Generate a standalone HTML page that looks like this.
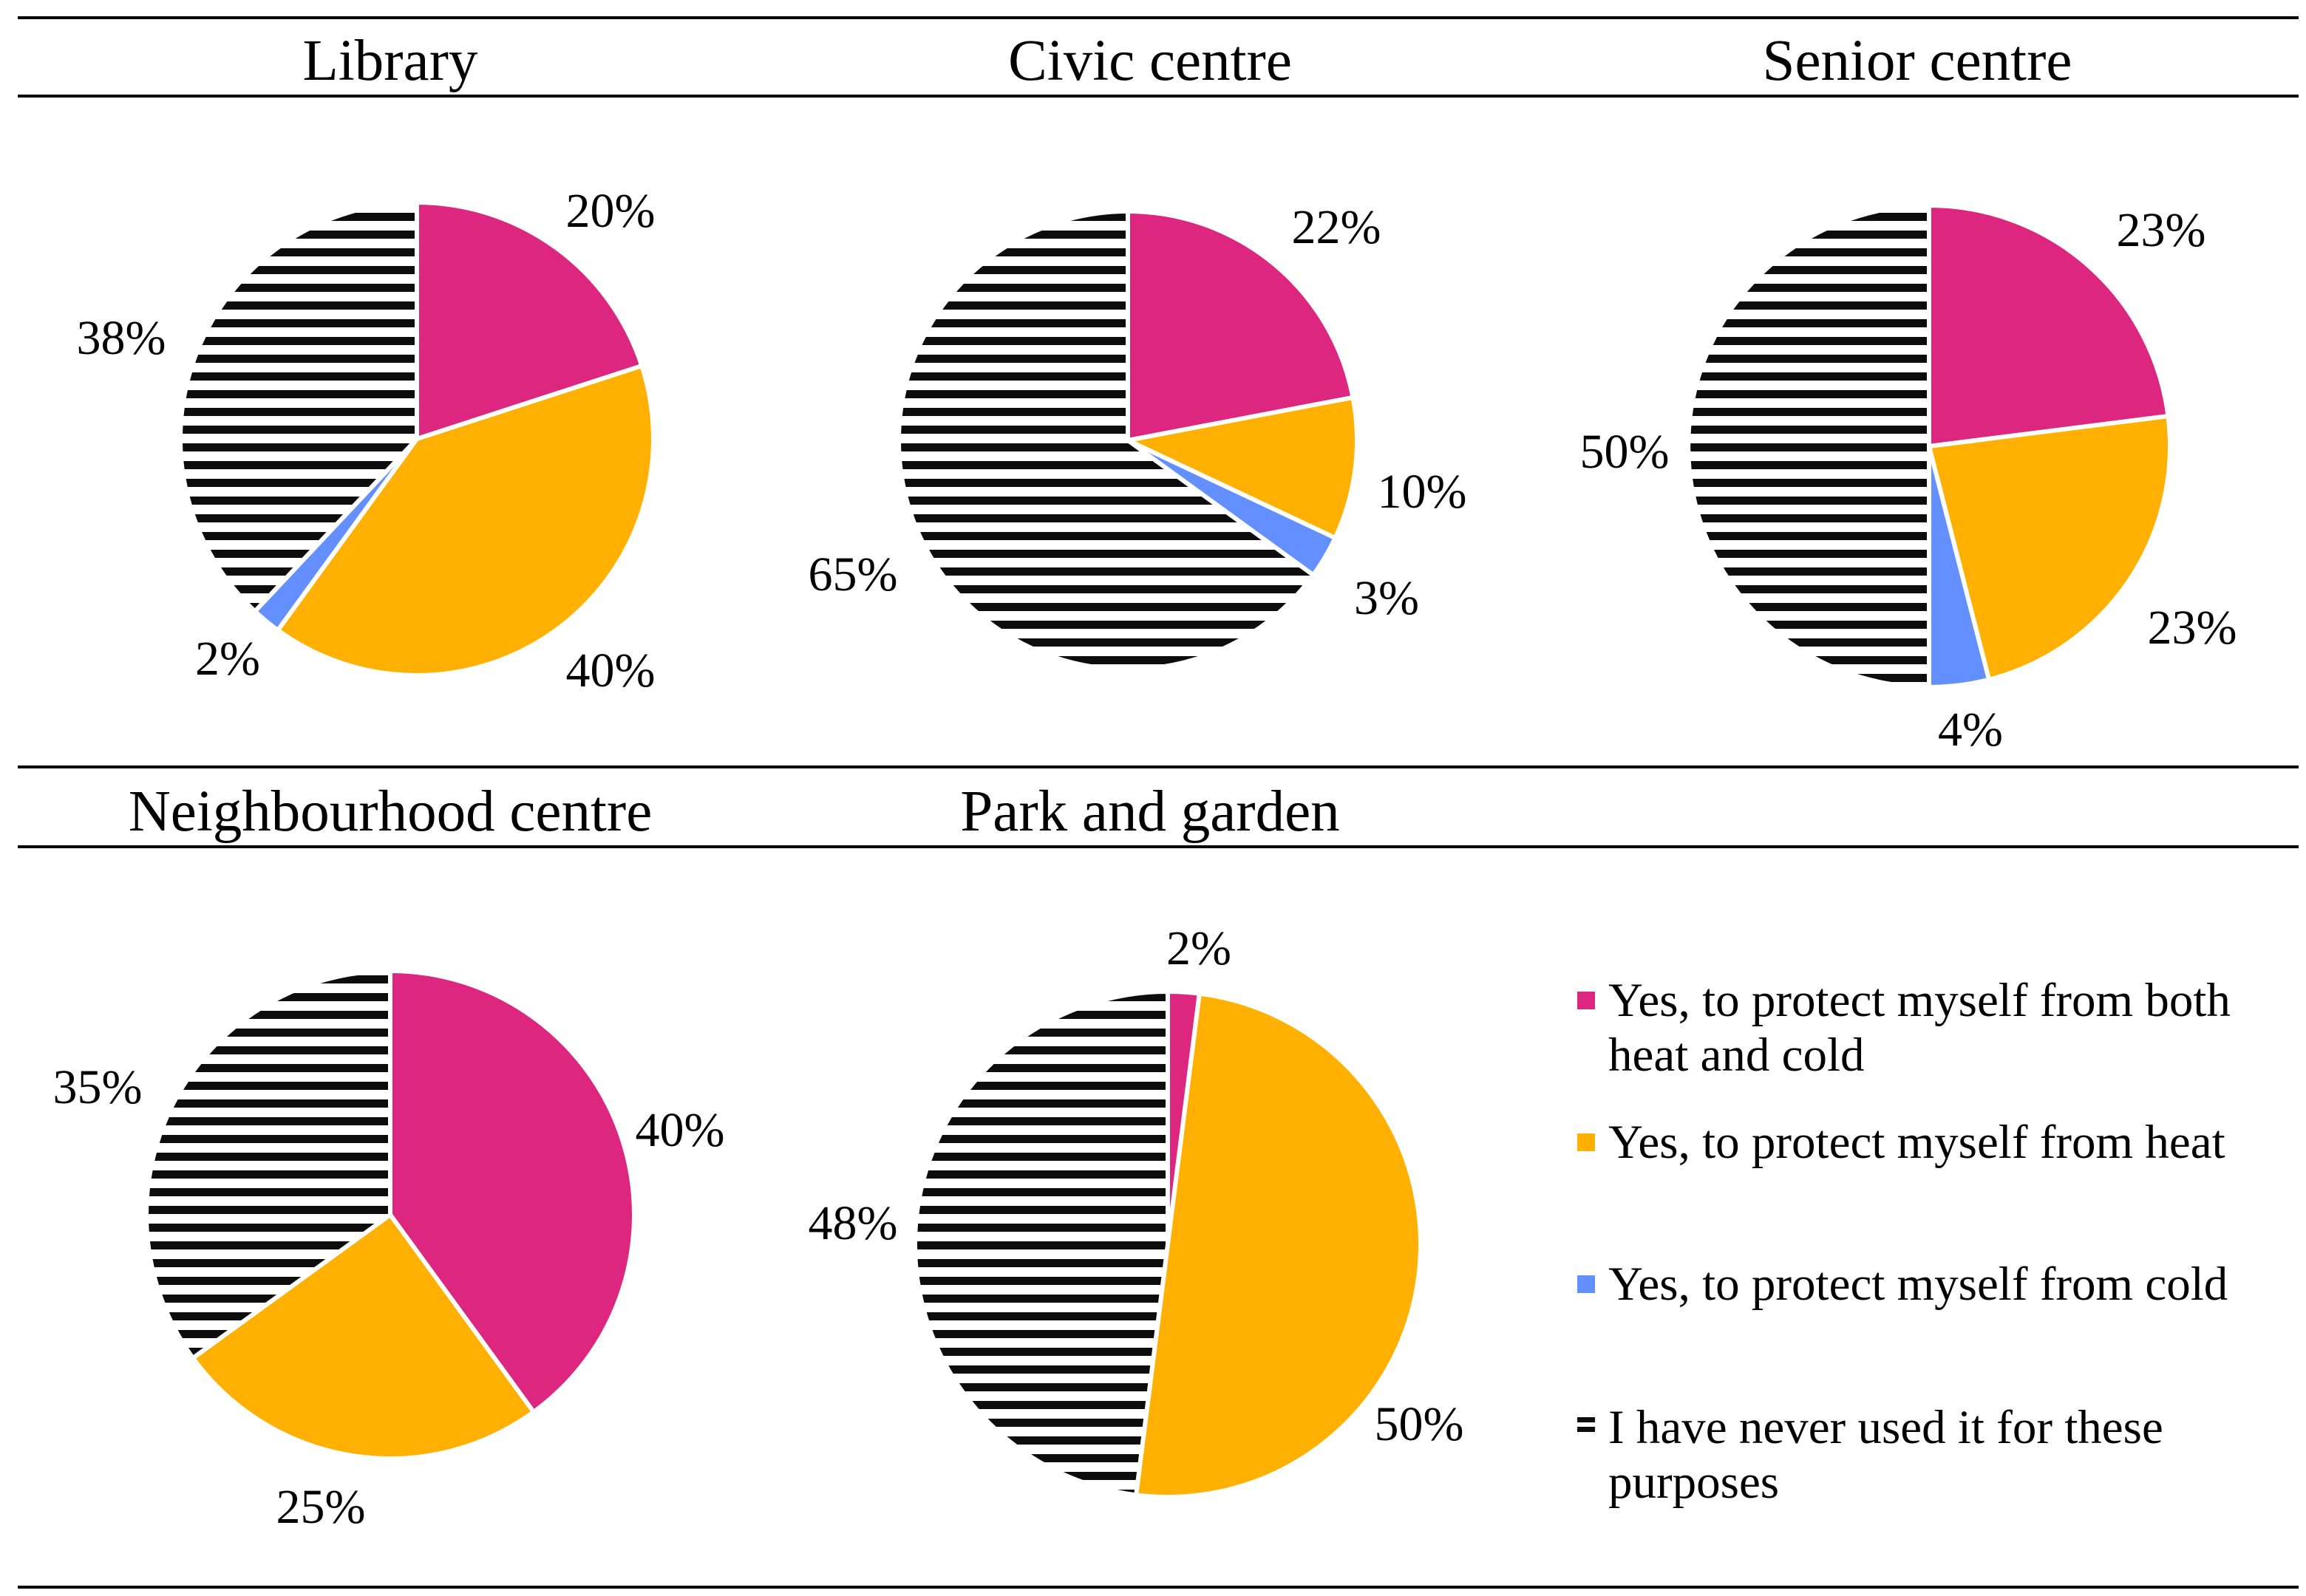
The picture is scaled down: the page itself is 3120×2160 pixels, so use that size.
<!DOCTYPE html>
<html><head><meta charset="utf-8"><style>
html,body{margin:0;padding:0;background:#fff;}
svg{display:block;}
text{font-family:"Liberation Serif",serif;fill:#000;}
</style></head><body>
<svg id="chart" width="3120" height="2160" viewBox="0 0 3120 2160" xmlns="http://www.w3.org/2000/svg">
<defs>
<pattern id="stripes" patternUnits="userSpaceOnUse" width="24" height="24">
<rect x="0" y="0" width="24" height="24" fill="#fff"/>
<rect x="0" y="0" width="24" height="11" fill="#0d0d0d"/>
</pattern>
</defs>
<g stroke="#000" stroke-width="4">
<line x1="24" y1="24" x2="3110" y2="24"/>
<line x1="24" y1="130" x2="3110" y2="130"/>
<line x1="24" y1="1038" x2="3110" y2="1038"/>
<line x1="24" y1="1146" x2="3110" y2="1146"/>
<line x1="24" y1="2148" x2="3110" y2="2148"/>
</g>
<g id="pies"></g>
<g font-size="65">
<rect x="2134" y="1342" width="24" height="24" fill="#DC267F"/>
<text x="2176" y="1375">Yes, to protect myself from both</text>
<text x="2176" y="1449">heat and cold</text>
<rect x="2134" y="1534" width="24" height="24" fill="#FFB000"/>
<text x="2176" y="1567">Yes, to protect myself from heat</text>
<rect x="2134" y="1726" width="24" height="24" fill="#648FFF"/>
<text x="2176" y="1759">Yes, to protect myself from cold</text>
<g>
<rect x="2134" y="1918" width="24" height="7" fill="#0d0d0d"/>
<rect x="2134" y="1931" width="24" height="7" fill="#0d0d0d"/>
</g>
<text x="2176" y="1953">I have never used it for these</text>
<text x="2176" y="2027">purposes</text>
</g>
</svg>
<script>
const titles = ["Library", "Civic centre", "Senior centre", "Neighbourhood centre", "Park and garden"];
const bothValues = [20, 22, 23, 40, 2];
const heatValues = [40, 10, 23, 25, 50];
const coldValues = [2, 3, 4, 0, 0];
const neverValues = [38, 65, 50, 35, 48];
const categories = ["both", "heat", "cold", "never"];
const fills = ["#DC267F", "#FFB000", "#648FFF", "url(#stripes)"];
const layout = [
  {cx: 564, cy: 594, r: 320, tx: 528, ty: 108},
  {cx: 1526, cy: 596, r: 310, tx: 1556, ty: 108},
  {cx: 2610, cy: 604, r: 326, tx: 2594, ty: 108},
  {cx: 528, cy: 1644, r: 330, tx: 528, ty: 1124},
  {cx: 1580, cy: 1684, r: 342, tx: 1556, ty: 1124}
];
/* label placement offsets (px from pie centre), per pie, per category */
const labelOffsets = [
  [[262,-310],[262,312],[-256,296],[-400,-138]],
  [[282,-290],[398,68],[350,212],[-372,180]],
  [[314,-294],[356,244],[56,382],[-412,6]],
  [[392,-116],[-94,394],[0,0],[-396,-174]],
  [[42,-402],[340,242],[0,0],[-426,-30]]
];
const NS = "http://www.w3.org/2000/svg";
const root = document.getElementById("pies");
function pt(cx, cy, r, frac) {
  const a = frac * 2 * Math.PI;
  return [cx + r * Math.sin(a), cy - r * Math.cos(a)];
}
titles.forEach((title, i) => {
  const L = layout[i];
  const g = document.createElementNS(NS, "g");
  
  
  root.appendChild(g);
  const t = document.createElementNS(NS, "text");
  
  
  t.setAttribute("x", L.tx); t.setAttribute("y", L.ty);
  t.setAttribute("text-anchor", "middle"); t.setAttribute("font-size", "79");
  t.textContent = title;
  g.appendChild(t);
  const vals = [bothValues[i], heatValues[i], coldValues[i], neverValues[i]];
  const total = vals.reduce((a, b) => a + b, 0);
  let acc = 0;
  vals.forEach((v, k) => {
    if (v <= 0) return;
    const f0 = acc / total, f1 = (acc + v) / total;
    acc += v;
    const p0 = pt(L.cx, L.cy, L.r, f0), p1 = pt(L.cx, L.cy, L.r, f1);
    const large = (f1 - f0) > 0.5 ? 1 : 0;
    const path = document.createElementNS(NS, "path");
    
    
    path.setAttribute("d", `M${L.cx},${L.cy} L${p0[0]},${p0[1]} A${L.r},${L.r} 0 ${large} 1 ${p1[0]},${p1[1]} Z`);
    path.setAttribute("fill", fills[k]);
    path.setAttribute("stroke", "#fff");
    path.setAttribute("stroke-width", "6");
    path.setAttribute("stroke-linejoin", "round");
    g.appendChild(path);
    const off = labelOffsets[i][k];
    const lt = document.createElementNS(NS, "text");
    
    
    lt.setAttribute("x", L.cx + off[0]); lt.setAttribute("y", L.cy + off[1] + 23);
    lt.setAttribute("text-anchor", "middle"); lt.setAttribute("font-size", "66");
    lt.textContent = v + "%";
    g.appendChild(lt);
  });
});
</script>
</body></html>
